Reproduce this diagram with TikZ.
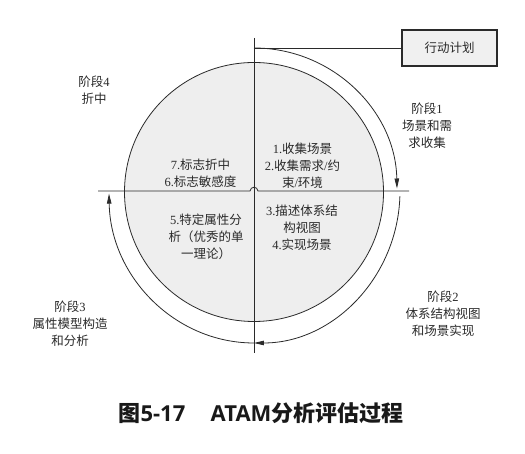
\documentclass[tikz,border=0pt]{standalone}
\usepackage{fontspec}
\setmainfont{Noto Sans CJK SC}
\newfontfamily\lt{Liberation Serif}
\newfontfamily\caplat{Open Sans}
\usetikzlibrary{arrows.meta}
\definecolor{ink}{HTML}{2A2A2A}
\definecolor{disk}{HTML}{EEEEEE}
\definecolor{boxfill}{HTML}{F0F0F0}
\begin{document}
\begin{tikzpicture}[x=1pt,y=1pt,
  line/.style={draw=ink, line width=0.8pt},
  flow/.style={line, -{Triangle[length=10pt,width=4.5pt]}},
  lbl/.style={text=ink, font=\fontsize{12.5}{17}\selectfont, align=center, inner sep=0pt},
]
\useasboundingbox (0,0) rectangle (525,454);
\fill[white] (0,0) rectangle (525,454);

% the disk split into four quadrants
\node[circle, draw=ink, line width=0.8pt, fill=disk, minimum size=259pt, inner sep=0pt] (disk) at (254,262) {};
\coordinate (top) at (254,416);
\coordinate (bot) at (254,101);
\coordinate (west) at (98,263);
\coordinate (east) at (409,263);
\coordinate (hopL) at (250,263);
\coordinate (hopR) at (258,263);
\draw[line] (top) -- (bot);
\draw[line] (west) -- (hopL) .. controls (250.5,268) and (257.5,268) .. (hopR) -- (east);

% action plan box
\node[draw=ink, line width=1.3pt, fill=boxfill, minimum width=95pt, minimum height=36pt, lbl] (plan) at (449.5,406) {行动计划};

% outer cycle of the phases
\coordinate (start) at (254,406);
\coordinate (sE) at (399.9,257.7);
\coordinate (sS) at (254,111);
\draw[line] (start) -- (plan.west);
\draw[flow] (start) arc[start angle=90, end angle=1, radius=143pt];
\draw[flow] (sE) arc[start angle=-2, end angle=-90, x radius=146pt, y radius=152pt];
\draw[flow] (sS) arc[start angle=-90, end angle=-179, x radius=145pt, y radius=152pt];

% phase labels
\node[lbl] (p4) at (94,364) {阶段{\lt 4}\\折中};
\node[lbl] (p1) at (427,328) {阶段{\lt 1}\\场景和需\\求收集};
\node[lbl] (p2) at (443,140) {阶段{\lt 2}\\体系结构视图\\和场景实现};
\node[lbl] (p3) at (70,130) {阶段{\lt 3}\\属性模型构造\\和分析};

% steps inside the quadrants
\node[lbl] (qUL) at (200.5,281) {{\lt 7.}标志折中\\{\lt 6.}标志敏感度};
\node[lbl] (qUR) at (302.5,288) {{\lt 1.}收集场景\\{\lt 2.}收集需求{\lt /}约\\束{\lt /}环境};
\node[lbl] (qLR) at (302,226) {{\lt 3.}描述体系结\\构视图\\{\lt 4.}实现场景};
\node[lbl] (qLL) at (206,217) {{\lt 5.}特定属性分\\析（优秀的单\\一理论）};

% caption
\node[text=black!90, font=\fontsize{22}{26}\selectfont\bfseries, inner sep=0pt] (cap) at (261,41)
  {图{\caplat 5-17}\hspace{1.15em}{\caplat ATAM}分析评估过程};
\end{tikzpicture}
\end{document}
